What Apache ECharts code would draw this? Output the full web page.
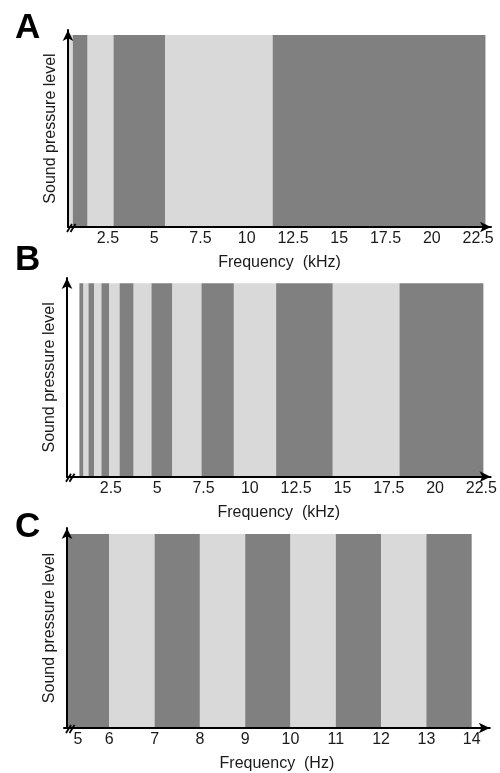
<!DOCTYPE html>
<html>
<head>
<meta charset="utf-8">
<script src="https://cdn.jsdelivr.net/npm/echarts@6/dist/echarts.min.js"></script>
<style>
html,body{margin:0;padding:0;background:#fff;}
#chart{width:500px;height:773px;}
</style>
</head>
<body>
<div id="chart"></div>
<script>
// ---- data ----
const panelLetters = ['A', 'B', 'C'];
// band edges (frequency) for each panel; shades alternate
const edgesA = [0.35, 0.6, 1.4, 2.8, 5.6, 11.4, 22.9];
const firstShadeA = 0;            // 0 = light, 1 = dark
const edgesB = [0.80, 1.02, 1.29, 1.59, 1.99, 2.40, 2.97, 3.73, 4.69, 5.82, 7.39, 9.14, 11.42, 14.48, 18.08, 22.61];
const firstShadeB = 1;
const edgesC = [5, 6, 7, 8, 9, 10, 11, 12, 13, 14];
const firstShadeC = 1;
const khzTicks = [2.5, 5, 7.5, 10, 12.5, 15, 17.5, 20, 22.5];
const hzTicks = [5, 6, 7, 8, 9, 10, 11, 12, 13, 14];
const xNames = ['Frequency  (kHz)', 'Frequency  (kHz)', 'Frequency  (Hz)'];
const yName = 'Sound pressure level';

const DARK = '#808080', LIGHT = '#d9d9d9', TEXT = '#1a1a1a';
const FONT = '"Liberation Sans", Arial, sans-serif';

function bands(edges, first) {
  const out = [];
  for (let i = 0; i < edges.length - 1; i++) {
    out.push([edges[i], edges[i + 1], (first + i) % 2]);
  }
  return out;
}

const layout = [
  {left: 68, top: 30, width: 423, height: 197, min: 0.34, max: 23.2, ymax: 1.026, yOffset: 0},
  {left: 67, top: 278, width: 423.6, height: 198.7, min: 0.13, max: 23.0, ymax: 1.027, yOffset: 0},
  {left: 64, top: 528, width: 425.8, height: 200, min: 5, max: 14.4, ymax: 1.031, yOffset: -3}
];
const data = [bands(edgesA, firstShadeA), bands(edgesB, firstShadeB), bands(edgesC, firstShadeC)];
const ticks = [khzTicks, khzTicks, hzTicks];

function makeRender(clipLeft) {
  return function (params, api) {
    const s = api.coord([api.value(0), 0]);
    const e = api.coord([api.value(1), 1]);
    const cs = params.coordSys;
    const shape = echarts.graphic.clipRectByRect(
      {x: s[0], y: e[1], width: e[0] - s[0], height: s[1] - e[1]},
      {x: cs.x + clipLeft, y: cs.y, width: cs.width - clipLeft, height: cs.height}
    );
    if (!shape) return;
    return {type: 'rect', shape: shape, style: {fill: api.value(2) === 1 ? DARK : LIGHT}};
  };
}

const option = {
  animation: false,
  backgroundColor: '#fff',
  title: panelLetters.map((t, i) => ({
    text: t, left: 10, top: [6, 238, 505][i],
    textStyle: {fontFamily: FONT, fontSize: 35, fontWeight: 'bold', color: '#000', lineHeight: 35}
  })),
  grid: layout.map(l => ({left: l.left, top: l.top, width: l.width, height: l.height, containLabel: false})),
  xAxis: layout.map((l, i) => ({
    type: 'value', gridIndex: i, min: l.min, max: l.max, z: 10,
    name: xNames[i], nameLocation: 'middle', nameGap: 28,
    nameTextStyle: {fontFamily: FONT, fontSize: 16, color: TEXT},
    axisLine: {show: true, onZero: false, lineStyle: {color: '#000', width: 2}, symbol: ['none', 'arrow'], symbolSize: [8, 11]},
    axisTick: {show: false, customValues: ticks[i]},
    splitLine: {show: false},
    axisLabel: {
      customValues: ticks[i], margin: 4,
      fontFamily: FONT, fontSize: 16, color: TEXT,
      formatter: i === 2 ? function (v) { return v === 5 ? '{first|5}' : String(v); } : function (v) { return String(v); },
      rich: {first: {fontFamily: FONT, fontSize: 16, color: TEXT, padding: [0, 0, 0, 28]}}
    }
  })),
  yAxis: layout.map((l, i) => ({
    type: 'value', gridIndex: i, min: 0, max: l.ymax, z: 10, offset: l.yOffset,
    name: yName, nameLocation: 'middle', nameGap: 9, nameRotate: 90,
    nameTextStyle: {fontFamily: FONT, fontSize: 16, color: TEXT},
    axisLine: {show: true, onZero: false, lineStyle: {color: '#000', width: 2}, symbol: ['none', 'arrow'], symbolSize: [8, 11]},
    axisTick: {show: false}, axisLabel: {show: false}, splitLine: {show: false}
  })),
  series: data.map((d, i) => ({
    type: 'custom', xAxisIndex: i, yAxisIndex: i,
    renderItem: makeRender(i === 2 ? 3 : 0),
    encode: {x: [0, 1]},
    data: d, z: 2
  }))
};

const chart = echarts.init(document.getElementById('chart'), null, {renderer: 'canvas'});
chart.setOption(option);

// axis-break "//" marks at each origin
const marks = [];
layout.forEach((l, i) => {
  const p = chart.convertToPixel({xAxisIndex: i, yAxisIndex: i}, [l.min, 0]);
  const x0 = p[0] - (l.yOffset || 0) + 2, y0 = p[1];
  [0, 3.5].forEach(dx => {
    marks.push({
      type: 'line', z: 20,
      shape: {x1: x0 - 3 + dx, y1: y0 + 5, x2: x0 + 2 + dx, y2: y0 - 3},
      style: {stroke: '#000', lineWidth: 1.8}
    });
  });
});
chart.setOption({graphic: marks});
</script>
</body>
</html>
